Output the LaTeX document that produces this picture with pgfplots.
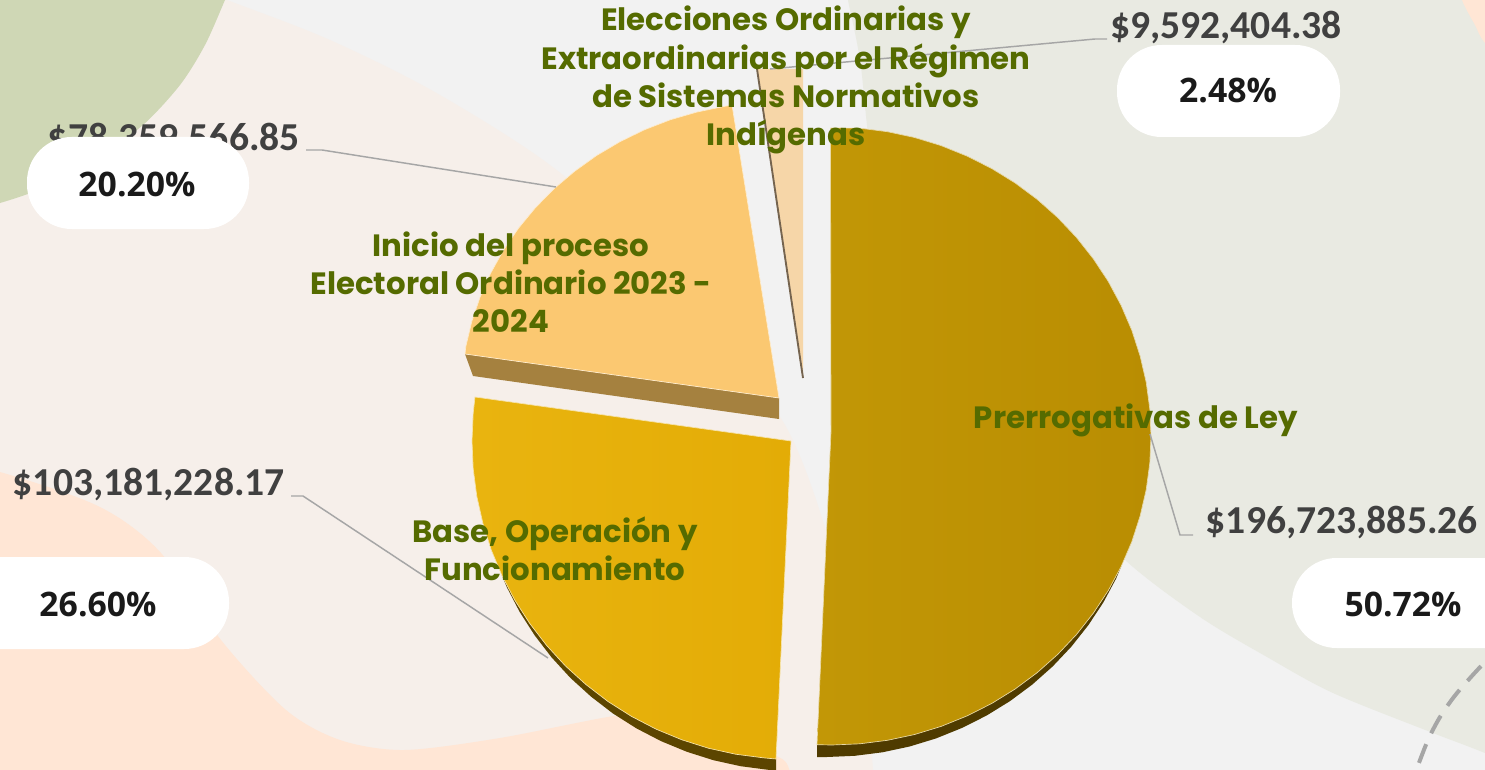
\documentclass[border=0pt]{standalone}
\usepackage{fontspec}
\setmainfont{Open Sans}
\newfontfamily\amountfont{Carlito}
\newfontfamily\lblfont{Poppins}
\usepackage{pgfplots}
\pgfplotsset{compat=1.18}
\definecolor{bgbase}{HTML}{F2F2F2}
\definecolor{bgpink}{HTML}{F6EFEA}
\definecolor{bggreen}{HTML}{CFD7B5}
\definecolor{bgorange}{HTML}{FFE6D5}
\definecolor{bgsage}{HTML}{E9EAE2}
\definecolor{gold}{HTML}{BD9104}
\definecolor{goldl}{HTML}{C29706}
\definecolor{goldr}{HTML}{B98D02}
\definecolor{goldside}{HTML}{4F3B00}
\definecolor{amber}{HTML}{E6AF0A}
\definecolor{amberl}{HTML}{E9B40F}
\definecolor{amberr}{HTML}{E3AC06}
\definecolor{amberside}{HTML}{5C4500}
\definecolor{sand}{HTML}{FBC871}
\definecolor{sandside}{HTML}{A5813F}
\definecolor{peach}{HTML}{F6D6A8}
\definecolor{peachside}{HTML}{75644F}
\definecolor{leader}{HTML}{A6A6A6}
\definecolor{lblgreen}{HTML}{556B00}
\definecolor{amount}{HTML}{404040}
\definecolor{pct}{HTML}{1A1A1A}
\tikzset{
  lbl/.style={text=lblgreen, align=center, inner sep=0pt, font=\lblfont\fontsize{23.1}{28.6}\selectfont\bfseries},
  amt/.style={text=amount, inner sep=0pt, font=\amountfont\fontsize{29.7}{30}\selectfont\bfseries},
  pc/.style={text=pct, inner sep=0pt, font=\fontsize{25.3}{26}\selectfont\bfseries},
  pill/.style={fill=white, rounded corners=33.5pt},
}
\begin{document}
\begin{tikzpicture}
\begin{axis}[scale only axis, width=1113.75pt, height=577.5pt, hide axis,
  xmin=0, xmax=1485, ymin=0, ymax=770, y dir=reverse]
% background shapes
\addplot[draw=none, fill=bgbase] coordinates {(-10,-10)(1495,-10)(1495,780)(-10,780)};
\addplot[draw=none, fill=bgpink, smooth] coordinates {(-100,-100)(120,-40)(227,0)(330,40)(440,95)(563,175)(680,290)(785,425)(835,560)(865,680)(873,770)(880,860)(-100,860)(-100,-100)};
\addplot[draw=none, fill=bggreen, smooth] coordinates {(-100,-100)(260,-100)(242,-40)(225,0)(205,45)(180,85)(143,125)(100,155)(50,185)(0,203)(-50,214)(-100,222)(-100,-100)};
\addplot[draw=none, fill=bgorange, smooth] coordinates {(-100,450)(0,472)(100,507)(161,553)(221,640)(286,710)(340,740)(404,750)(500,738)(620,715)(700,710)(770,752)(790,772)(800,860)(-100,860)(-100,450)};
\addplot[draw=none, fill=bgsage, smooth] coordinates {(840,-50)(848,0)(860,60)(880,200)(950,350)(1050,480)(1125,560)(1200,617)(1267,657)(1333,693)(1433,733)(1485,753)(1600,800)(1600,-50)(840,-50)};
\addplot[draw=none, fill=bgorange, smooth] coordinates {(1455,-30)(1462,0)(1475,25)(1485,43)(1520,80)(1600,80)(1600,-30)(1455,-30)};
\addplot[leader, line width=3pt, dash pattern=on 15pt off 9pt, smooth] coordinates {(1505,645)(1485,662)(1457,693)(1440,717)(1428,740)(1417,768)(1405,800)};
% slice sides
\addplot[draw=none, fill=goldside] coordinates {(1121.1,566.6)(1116.1,578.6)(1103.3,602.5)(1088.3,625.2)(1071.4,646.6)(1052.6,666.5)(1032.1,684.7)(1010,701.1)(986.5,715.6)(961.8,728)(936.1,738.4)(909.6,746.5)(882.4,752.3)(854.8,755.8)(827,757)(817,757)(817,745)};
\addplot[draw=none, fill=amberside] coordinates {(501.9,575.4)(506.9,587.4)(519.7,612)(534.7,635.4)(551.6,657.4)(570.4,677.9)(591,696.6)(613,713.5)(636.5,728.4)(661.2,741.2)(686.9,751.8)(713.4,760.2)(740.6,766.2)(768.2,769.8)(776,771)(776,759)};
\addplot[draw=none, fill=sandside] coordinates {(465,354)(473,376)(779,419)(779,398)};
% Prerrogativas de Ley
\addplot[draw=white!65!gold, line width=0.5pt, left color=goldl, right color=goldr] coordinates {(830.5,128)(859.8,128.2)(887.4,131.7)(914.6,137.5)(941.1,145.6)(966.8,156)(991.5,168.4)(1015,182.9)(1037.1,199.3)(1057.6,217.5)(1076.4,237.4)(1093.3,258.8)(1108.3,281.5)(1121.1,305.4)(1131.8,330.3)(1140.1,356)(1146.2,382.3)(1149.8,409.1)(1151,436)(1149.8,462.9)(1146.2,489.7)(1140.1,516)(1131.8,541.7)(1121.1,566.6)(1108.3,590.5)(1093.3,613.2)(1076.4,634.6)(1057.6,654.5)(1037.1,672.7)(1015,689.1)(991.5,703.6)(966.8,716)(941.1,726.4)(914.6,734.5)(887.4,740.3)(859.8,743.8)(832,745)(817,744.7)(831,432)(830.5,128)};
% Base, Operacion y Funcionamiento
\addplot[draw=white!65!amber, line width=0.5pt, left color=amberl, right color=amberr] coordinates {(791,441)(475,397)(473.2,413.3)(472,441)(473.2,468.7)(476.8,496.2)(482.9,523.3)(491.2,549.8)(501.9,575.4)(514.7,600)(529.7,623.4)(546.6,645.4)(565.4,665.9)(586,684.6)(608,701.5)(631.5,716.4)(656.2,729.2)(681.9,739.8)(708.4,748.2)(735.6,754.2)(763.2,757.8)(776,759)(791,441)};
% Inicio del proceso
\addplot[draw=white!65!sand, line width=0.5pt, fill=sand] coordinates {(779,398)(732,105)(723.8,106.5)(696.7,112.1)(670.2,119.8)(644.6,129.7)(620,141.7)(596.6,155.5)(574.6,171.3)(554.1,188.7)(535.4,207.7)(518.5,228.2)(503.6,250)(490.8,272.9)(480.2,296.8)(471.8,321.4)(465.8,346.6)(465,354)(779,398)};
% Elecciones
\addplot[draw=none, fill=peach] coordinates {(757,69)(803,69)(803,378)};
\addplot[peachside, line width=1.4pt] coordinates {(757,69)(803,378)};
% leaders
\addplot[leader, line width=1.1pt] coordinates {(1150,434)(1180,535)(1193,535)};
\addplot[leader, line width=1.1pt] coordinates {(306,150)(322,150)(556,187)};
\addplot[leader, line width=1.1pt] coordinates {(291,496)(303,496)(548,658)};
\addplot[leader, line width=1.1pt] coordinates {(770,69)(1095,39)(1107,39)};
% amounts
\node[amt, anchor=east] at (axis cs:1342,28) {\$9,592,404.38};
\node[amt, anchor=east] at (axis cs:300,140) {\$78,359,566.85};
\node[amt, anchor=east] at (axis cs:285,485) {\$103,181,228.17};
\node[amt, anchor=east] at (axis cs:1478,523) {\$196,723,885.26};
% pills
\fill[pill] (axis cs:1117,45) rectangle (axis cs:1340,137);
\fill[pill] (axis cs:27,137) rectangle (axis cs:249,229);
\fill[pill] (axis cs:-60,557) rectangle (axis cs:229,649);
\fill[pill] (axis cs:1292,558) rectangle (axis cs:1560,648);
\node[pc] at (axis cs:1228,91) {2.48\%};
\node[pc] at (axis cs:137,184) {20.20\%};
\node[pc] at (axis cs:98,604) {26.60\%};
\node[pc] at (axis cs:1403,604) {50.72\%};
% slice labels
\node[lbl] at (axis cs:786,80) {Elecciones Ordinarias y\\Extraordinarias por el Régimen\\de Sistemas Normativos\\Indígenas};
\node[lbl] at (axis cs:511,282) {Inicio del proceso\\Electoral Ordinario 2023 -\\2024};
\node[lbl] at (axis cs:555,548.5) {Base, Operación y\\Funcionamiento};
\node[lbl] at (axis cs:1136,420) {Prerrogativas de Ley};
\end{axis}
\pgfresetboundingbox
\path[use as bounding box] (current axis.south west) rectangle (current axis.north east);
\end{tikzpicture}
\end{document}
